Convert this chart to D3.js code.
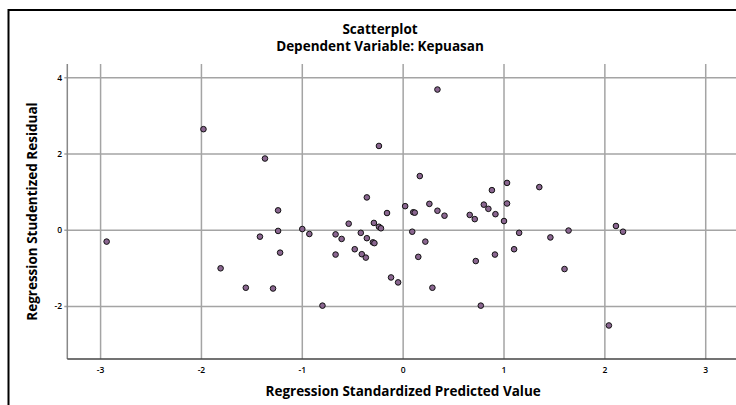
<!DOCTYPE html>
<html>
<head>
<meta charset="utf-8">
<script src="https://cdn.jsdelivr.net/npm/d3@7"></script>
<style>
  body { margin: 0; background: #fff; }
  svg { display: block; font-family: "Open Sans", Lato, sans-serif; }
</style>
</head>
<body>
<div id="scatter"></div>
<script>
// values
var predicted = [-2.94, -1.98, -1.81, -1.56, -1.42, -1.37, -1.29, -1.24, -1.24, -1.22,
  -1.00, -0.93, -0.80, -0.67, -0.67, -0.61, -0.54, -0.48, -0.42, -0.41,
  -0.37, -0.36, -0.36, -0.29, -0.30, -0.285, -0.24, -0.24, -0.22, -0.16,
  -0.12, -0.05, 0.02, 0.09, 0.10, 0.115, 0.15, 0.165, 0.22, 0.26,
  0.29, 0.34, 0.34, 0.41, 0.66, 0.71, 0.72, 0.77, 0.80, 0.845,
  0.88, 0.91, 0.915, 1.00, 1.03, 1.03, 1.10, 1.15, 1.35, 1.46,
  1.60, 1.64, 2.04, 2.11, 2.18];
var residual = [-0.30, 2.65, -1.00, -1.51, -0.17, 1.88, -1.53, 0.52, -0.02, -0.59,
  0.03, -0.10, -1.98, -0.11, -0.64, -0.23, 0.17, -0.50, -0.07, -0.63,
  -0.72, 0.86, -0.21, 0.19, -0.32, -0.34, 2.21, 0.09, 0.05, 0.45,
  -1.24, -1.37, 0.63, -0.04, 0.47, 0.46, -0.70, 1.42, -0.30, 0.69,
  -1.51, 3.69, 0.51, 0.38, 0.40, 0.29, -0.81, -1.98, 0.67, 0.56,
  1.05, -0.64, 0.42, 0.24, 1.24, 0.70, -0.50, -0.07, 1.13, -0.19,
  -1.02, -0.01, -2.50, 0.11, -0.04];
var xTicks = [-3, -2, -1, 0, 1, 2, 3];
var yTicks = [-2, 0, 2, 4];

var w = 736, h = 405;
var plot = { left: 67.3, right: 739, top: 64, bottom: 359 };

var svg = d3.select("#scatter")
  .append("svg")
  .attr("width", w)
  .attr("height", h);

// outer frame (runs past the cropped right and bottom edges)
svg.append("rect")
  .attr("x", 8.5).attr("y", 10)
  .attr("width", 780).attr("height", 430)
  .attr("fill", "none")
  .attr("stroke", "#000")
  .attr("stroke-width", 2);

svg.append("text")
  .attr("x", 380).attr("y", 34)
  .attr("text-anchor", "middle")
  .attr("font-weight", "bold")
  .attr("font-size", 13.5)
  .text("Scatterplot");

svg.append("text")
  .attr("x", 380).attr("y", 51)
  .attr("text-anchor", "middle")
  .attr("font-weight", "bold")
  .attr("font-size", 13.5)
  .text("Dependent Variable: Kepuasan");

// scales
var xScale = d3.scaleLinear()
  .domain([-3.33, 3.33])
  .range([plot.left, plot.right]);

var yScale = d3.scaleLinear()
  .domain([-3.38, 4.36])
  .range([plot.bottom, plot.top]);

// grid lines
var grid = svg.append("g").attr("stroke", "#a4a4a4").attr("stroke-width", 1.5);

grid.selectAll("line.vx")
  .data(xTicks)
  .enter()
  .append("line")
  .attr("x1", d => xScale(d)).attr("x2", d => xScale(d))
  .attr("y1", plot.top).attr("y2", plot.bottom);

grid.selectAll("line.hy")
  .data(yTicks)
  .enter()
  .append("line")
  .attr("x1", plot.left - 3).attr("x2", plot.right)
  .attr("y1", d => yScale(d)).attr("y2", d => yScale(d));

// axis lines
svg.append("line")
  .attr("x1", plot.left).attr("x2", plot.left)
  .attr("y1", plot.top).attr("y2", plot.bottom)
  .attr("stroke", "#888").attr("stroke-width", 1.5);

svg.append("line")
  .attr("x1", plot.left).attr("x2", plot.right)
  .attr("y1", plot.bottom).attr("y2", plot.bottom)
  .attr("stroke", "#444").attr("stroke-width", 1.5);

// tick labels
svg.selectAll("text.xtick")
  .data(xTicks)
  .enter()
  .append("text")
  .attr("class", "xtick")
  .attr("x", d => xScale(d))
  .attr("y", 372.5)
  .attr("text-anchor", "middle")
  .attr("font-size", 8.5)
  .attr("font-weight", 600)
  .text(d => d);

svg.selectAll("text.ytick")
  .data(yTicks)
  .enter()
  .append("text")
  .attr("class", "ytick")
  .attr("x", 62)
  .attr("y", d => yScale(d) + 3)
  .attr("text-anchor", "end")
  .attr("font-size", 8.5)
  .attr("font-weight", 600)
  .text(d => d);

// axis titles
svg.append("text")
  .attr("x", (plot.left + plot.right) / 2)
  .attr("y", 396)
  .attr("text-anchor", "middle")
  .attr("font-weight", "bold")
  .attr("font-size", 13.5)
  .text("Regression Standardized Predicted Value");

svg.append("text")
  .attr("transform", "translate(37," + ((plot.top + plot.bottom) / 2) + ") rotate(-90)")
  .attr("text-anchor", "middle")
  .attr("font-weight", "bold")
  .attr("font-size", 13.5)
  .text("Regression Studentized Residual");

// points
svg.selectAll("circle")
  .data(predicted)
  .enter()
  .append("circle")
  .attr("cx", d => xScale(d))
  .attr("cy", (d, i) => yScale(residual[i]))
  .attr("r", 2.8)
  .attr("fill", "#8a6690")
  .attr("stroke", "#111")
  .attr("stroke-width", 1);
</script>
</body>
</html>
